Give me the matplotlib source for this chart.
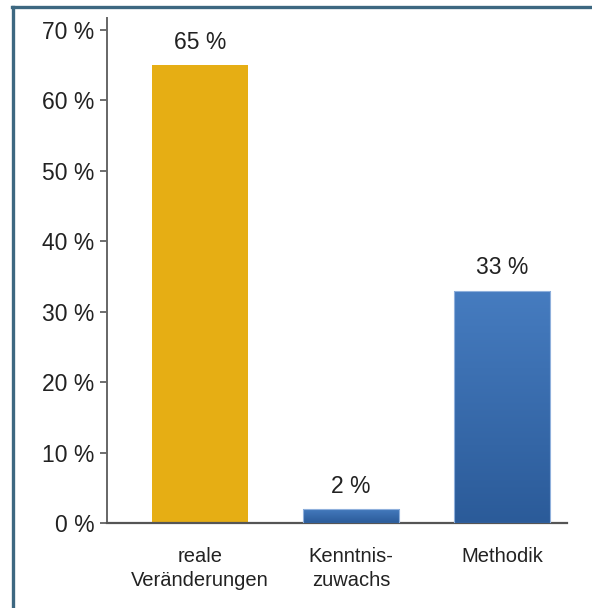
import numpy as np
import matplotlib.pyplot as plt
from matplotlib.lines import Line2D

categories = ["reale\nVeränderungen", "Kenntnis-\nzuwachs", "Methodik"]
values = [65, 2, 33]
value_labels = ["65 %", "2 %", "33 %"]
ticks = [0, 10, 20, 30, 40, 50, 60, 70]
tick_labels = ["0 %", "10 %", "20 %", "30 %", "40 %", "50 %", "60 %", "70 %"]

plt.rcParams['font.family'] = ['Liberation Sans', 'DejaVu Sans']

fig = plt.figure(figsize=(5.92, 6.08), dpi=100)
ax = fig.add_axes([107 / 592, 85 / 608, 460 / 592, 505 / 608])

x = np.arange(len(categories))
colors = ["#e6ae14", "#3a6db1", "#3a6db1"]
bars = ax.bar(x, values, width=0.636, color=colors, zorder=2)

# vertical gradient on the blue bars
grad = np.linspace(0, 1, 256).reshape(-1, 1)
cmap = plt.matplotlib.colors.LinearSegmentedColormap.from_list("b", ["#2b5b99", "#467cc0"])
for b in bars[1:]:
    x0, y0 = b.get_x(), b.get_y()
    w, h = b.get_width(), b.get_height()
    im = ax.imshow(grad, extent=[x0, x0 + w, y0, y0 + h], origin="lower",
                   cmap=cmap, aspect="auto", zorder=3)
    im.set_clip_path(b)
    ax.add_patch(plt.Rectangle((x0, y0), w, h, fill=False, ec="#8fb0dc", lw=0.8, zorder=4))

for xi, v, lab in zip(x, values, value_labels):
    ax.annotate(lab, (xi, v), xytext=(0, 8), textcoords="offset points",
                ha="center", va="bottom", fontsize=16.5, color="#222222")

ax.set_xlim(-0.616, 2.43)
ax.set_ylim(0, 71.7)
ax.set_yticks(ticks)
ax.set_yticklabels(tick_labels, fontsize=16.5, color="#222222")
ax.set_xticks(x)
ax.set_xticklabels(categories, fontsize=14.5, color="#222222", linespacing=1.35)
ax.tick_params(axis="x", length=0, pad=17)
ax.tick_params(axis="y", length=5, width=1.2, color="#555555", pad=4)

for s in ["top", "right"]:
    ax.spines[s].set_visible(False)
ax.spines["left"].set_color("#666666")
ax.spines["left"].set_linewidth(1.4)
ax.spines["bottom"].set_color("#555555")
ax.spines["bottom"].set_linewidth(1.6)

# frame lines at the left and top edges
fig.add_artist(Line2D([13 / 592, 13 / 592], [0, 1 - 7 / 608], color="#3d6881", lw=2.4))
fig.add_artist(Line2D([12 / 592, 1], [1 - 7 / 608, 1 - 7 / 608], color="#3d6881", lw=2.4))

fig.savefig("out.png", dpi=100)
